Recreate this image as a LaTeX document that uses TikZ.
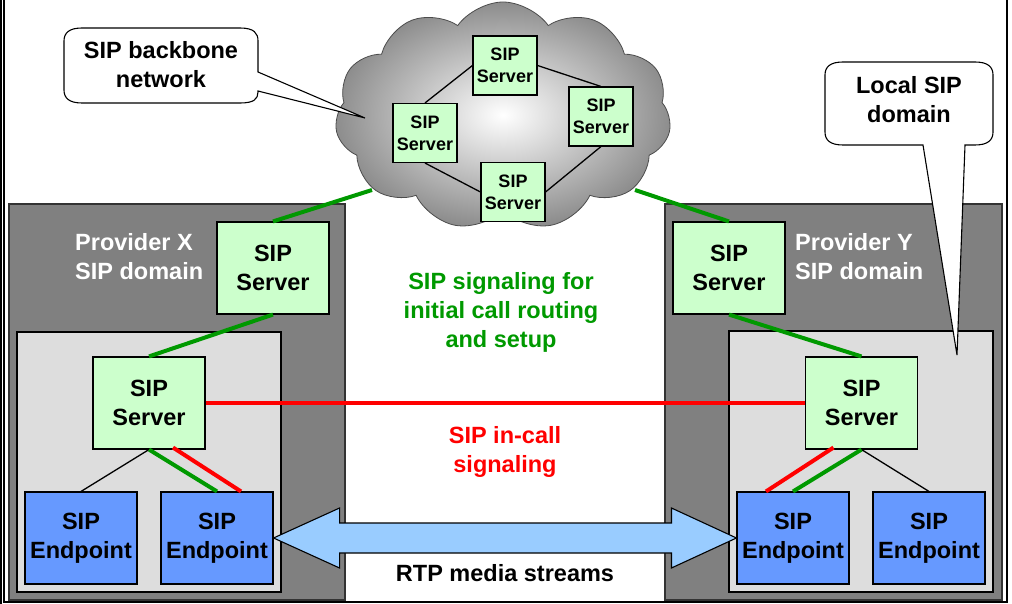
\documentclass[tikz,border=0pt]{standalone}
\usepackage{fontspec}
\setmainfont{Liberation Sans}
\usetikzlibrary{shapes.symbols,calc}
\definecolor{srvgreen}{HTML}{CCFFCC}
\definecolor{epblue}{HTML}{6699FF}
\definecolor{arrowblue}{HTML}{99CCFF}
\definecolor{panelgray}{HTML}{808080}
\definecolor{innergray}{HTML}{DDDDDD}
\definecolor{sigreen}{HTML}{009900}
\definecolor{sigred}{HTML}{FF0000}
\tikzset{
  bigfont/.style={font=\fontsize{23.5}{29}\selectfont\bfseries},
  smallfont/.style={font=\fontsize{18}{22}\selectfont\bfseries},
  server/.style={draw=black, line width=1.1pt, fill=srvgreen, minimum width=112pt, minimum height=92pt, inner sep=0pt, align=center, bigfont},
  cserver/.style={draw=black, line width=1.1pt, fill=srvgreen, minimum width=64pt, minimum height=59pt, inner sep=0pt, align=center, smallfont},
  endpoint/.style={draw=black, line width=1.1pt, fill=epblue, minimum width=112pt, minimum height=92pt, inner sep=0pt, align=center, bigfont},
  panel/.style={draw=black!80, line width=1.1pt, fill=panelgray},
  innerbox/.style={draw=black, line width=1.1pt, fill=innergray},
  gline/.style={draw=sigreen, line width=4pt},
  rline/.style={draw=sigred, line width=4pt},
  bline/.style={draw=black, line width=1.3pt},
  callout/.style={draw=black, line width=1.1pt, fill=white},
  arrowfill/.style={draw=black, line width=1.1pt, fill=arrowblue},
  label/.style={bigfont, align=center, inner sep=0pt}
}
\begin{document}
\begin{tikzpicture}[x=1pt,y=-1pt]
\useasboundingbox (0,0) rectangle (1012,604);
% frame
\draw[line width=1.3pt] (1,-2) -- (1,606);
\draw[line width=1.3pt] (4,-2) -- (4,602) -- (1007,602) -- (1007,-2);
% panels
\draw[panel] (9,204) rectangle (345,600);
\draw[innerbox] (17,332) rectangle (281,592);
\draw[panel] (665,204) rectangle (1002,600);
\draw[innerbox] (729,331) rectangle (993,592);
% panel labels
\node[label, text=white, align=left, anchor=west] (plx) at (75,257) {Provider X\\SIP domain};
\node[label, text=white, align=left, anchor=west] (ply) at (795,257) {Provider Y\\SIP domain};
% servers and endpoints
\node[server] (sX) at (273,268) {SIP\\Server};
\node[server] (sXi) at (149,403) {SIP\\Server};
\node[endpoint] (eX1) at (81,538) {SIP\\Endpoint};
\node[endpoint] (eX2) at (217,538) {SIP\\Endpoint};
\node[server] (sY) at (729,268) {SIP\\Server};
\node[server] (sYi) at (861.5,403) {SIP\\Server};
\node[endpoint] (eY1) at (793,538) {SIP\\Endpoint};
\node[endpoint] (eY2) at (929,538) {SIP\\Endpoint};
% green lines to cloud
\coordinate (gl) at (372,190);
\coordinate (gr) at (635,190);
\draw[gline] (sX.north) -- (gl);
\draw[gline] (sY.north) -- (gr);
% cloud
\node[cloud, cloud puffs=11, cloud puff arc=110, aspect=1.5, minimum width=336pt, minimum height=228pt, draw=black!70, line width=0.8pt, shade, inner color=white, outer color=black!45] (cloud) at (503,116) {};
\node[cserver] (cT) at (505,65.5) {SIP\\Server};
\node[cserver] (cL) at (425,133) {SIP\\Server};
\node[cserver] (cR) at (601,116.5) {SIP\\Server};
\node[cserver] (cB) at (513,192) {SIP\\Server};
\draw[bline] (cL.north) -- (cT.west);
\draw[bline] (cT.east) -- (cR.north);
\draw[bline] (cR.south) -- (cB.east);
\draw[bline] (cL.south) -- (cB.west);
% signaling
\draw[gline] (sX.south) -- (sXi.north);
\draw[gline] (sY.south) -- (sYi.north);
\draw[rline] (sXi.east) -- (sYi.west);
\draw[bline] (sXi.south) -- (eX1.north);
\draw[gline] (sXi.south) -- (eX2.north);
\draw[rline] ([xshift=24pt,yshift=2pt]sXi.south) -- ([xshift=24pt]eX2.north);
\draw[bline] (sYi.south) -- (eY2.north);
\draw[gline] (sYi.south) -- (eY1.north);
\draw[rline] ([xshift=-28pt,yshift=2pt]sYi.south) -- ([xshift=-27pt]eY1.north);
% RTP arrow
\draw[arrowfill] (eX2.east) -- ++(66,-30) -- ++(0,15) -- ($(eY1.west)+(-65,-15)$) -- ++(0,-15) -- (eY1.west) -- ++(-65,30) -- ++(0,-15) -- ($(eX2.east)+(66,15)$) -- ++(0,15) -- cycle;
% labels
\node[label, text=sigreen] (lg) at (501,312) {SIP signaling for\\initial call routing\\and setup};
\node[label, text=sigred] (lr) at (505,452) {SIP in-call\\signaling};
\node[label] (lrtp) at (505,573) {RTP media streams};
% callouts
\draw[callout] (258,72) -- (365,118) -- (258,91) -- (258,92) .. controls (258,99) and (254,103) .. (240,103)
  -- (82,103) .. controls (69,103) and (64,98) .. (64,90)
  -- (64,41) .. controls (64,33) and (69,28) .. (82,28)
  -- (240,28) .. controls (254,28) and (258,33) .. (258,41) -- cycle;
\node[label] (cb) at (161,65) {SIP backbone\\network};
\draw[callout] (923,145) -- (957,355) -- (965,145)
  -- (975,145) .. controls (988,145) and (993,140) .. (993,132)
  -- (993,75) .. controls (993,67) and (988,62) .. (975,62)
  -- (843,62) .. controls (830,62) and (825,67) .. (825,75)
  -- (825,132) .. controls (825,140) and (830,145) .. (843,145) -- cycle;
\node[label] (cs) at (909,100) {Local SIP\\domain};
\end{tikzpicture}
\end{document}
